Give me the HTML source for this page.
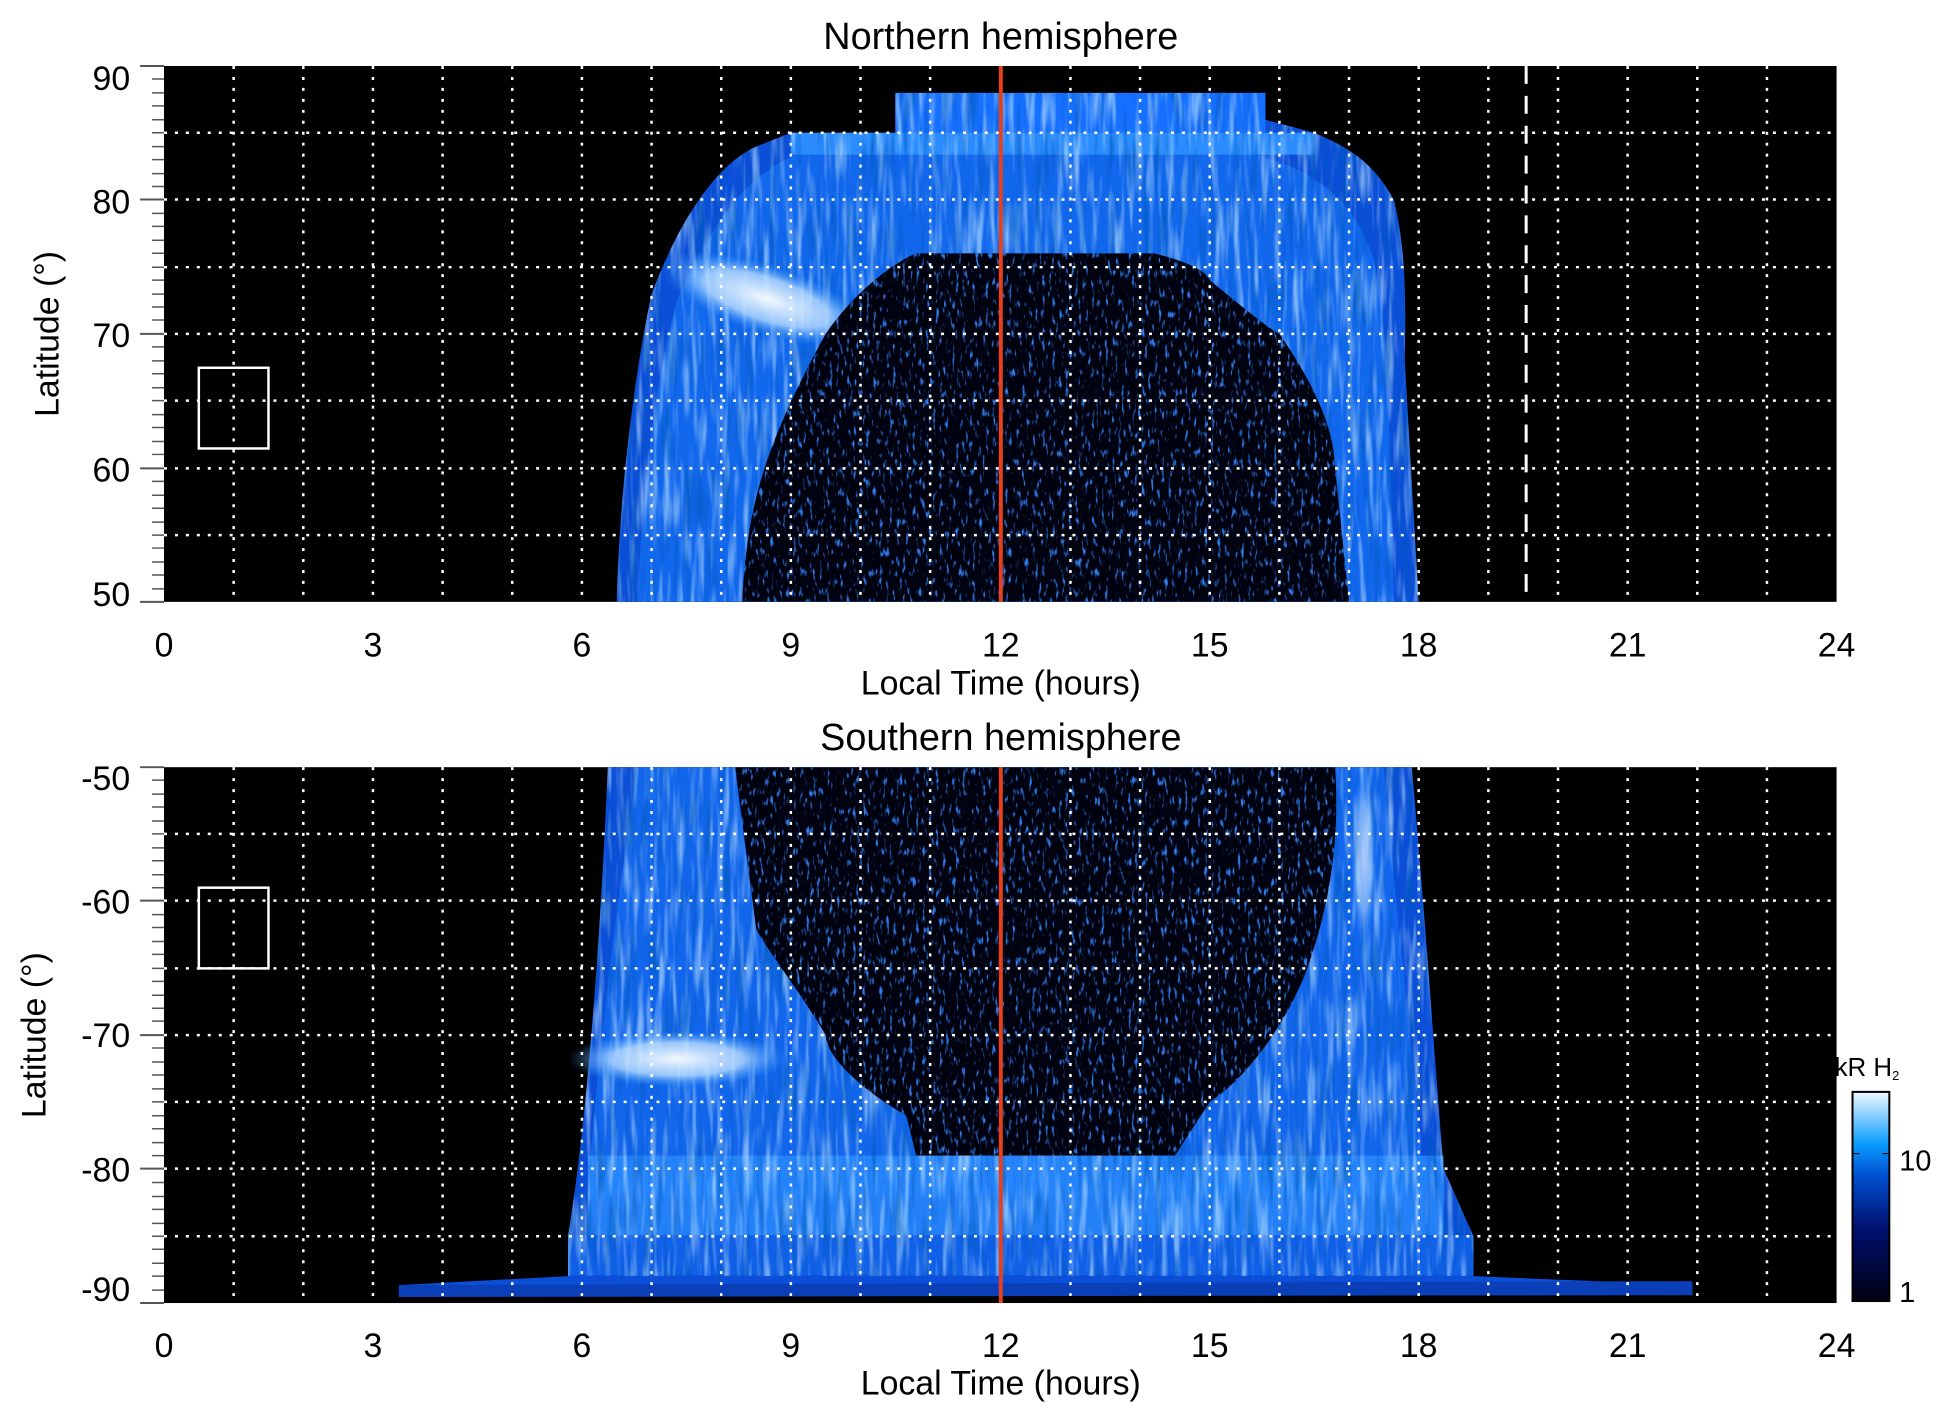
<!DOCTYPE html>
<html><head><meta charset="utf-8"><style>
body{margin:0;background:#fff;}
svg{display:block;font-family:"Liberation Sans",sans-serif;}
</style></head><body>
<svg width="1950" height="1423" viewBox="0 0 1950 1423" xmlns="http://www.w3.org/2000/svg">
<defs>
<filter id="spk" x="0" y="0" width="100%" height="100%">
<feTurbulence type="fractalNoise" baseFrequency="0.3 0.1" numOctaves="2" seed="3"/>
<feColorMatrix type="matrix" values="0 0 0 0 0.03  0 0 0 0 0.2  0 0 0 0 0.85  5 0 0 0 -2.9"/>
</filter>
<filter id="str" x="0" y="0" width="100%" height="100%">
<feTurbulence type="fractalNoise" baseFrequency="0.15 0.015" numOctaves="2" seed="7"/>
<feColorMatrix type="matrix" values="0 0 0 0 0.55  0 0 0 0 0.8  0 0 0 0 1  3 0 0 0 -1.4"/>
</filter>
<filter id="strd" x="0" y="0" width="100%" height="100%">
<feTurbulence type="fractalNoise" baseFrequency="0.15 0.015" numOctaves="2" seed="11"/>
<feColorMatrix type="matrix" values="0 0 0 0 0  0 0 0 0 0.1  0 0 0 0 0.5  3 0 0 0 -1.5"/>
</filter>
<radialGradient id="wt" cx="0.5" cy="0.5" r="0.5"><stop offset="0" stop-color="#f4f9ff"/><stop offset="0.6" stop-color="#b8dcff" stop-opacity="0.8"/><stop offset="1" stop-color="#3a9bff" stop-opacity="0"/></radialGradient>
<linearGradient id="cb" x1="0" y1="1" x2="0" y2="0"><stop offset="0" stop-color="#000010"/><stop offset="0.35" stop-color="#001070"/><stop offset="0.6" stop-color="#0050d0"/><stop offset="0.75" stop-color="#0a9cff"/><stop offset="1" stop-color="#f0f8ff"/></linearGradient>
<clipPath id="c1"><rect x="164" y="66" width="1681" height="538"/></clipPath>
<clipPath id="c2"><rect x="164" y="770" width="1681" height="538"/></clipPath>
<clipPath id="o1"><path d="M619,604 C622,480 640,360 654,295 C690,200 730,160 759,147 L794,133 L899,133 L899,93 L1271,93 L1271,120 L1320,133 C1360,150 1380,165 1400,200 C1415,260 1411,330 1411,362 L1425,604 Z"/></clipPath>
<clipPath id="o2"><path d="M610,770 L1418,770 C1430,900 1440,1050 1450,1173 L1480,1241 L1480,1281 L570,1281 L570,1241 C585,1150 600,1000 610,770 Z"/></clipPath>
<clipPath id="d1"><path d="M745,604 C750,520 760,460 829,335 C860,290 900,262 920,254 L1159,254 C1190,262 1210,270 1215,281 C1250,310 1275,330 1285,335 C1330,400 1340,440 1341,470 L1355,604 Z"/></clipPath>
<clipPath id="d2"><path d="M738,770 L1341,770 C1345,830 1340,900 1310,980 C1280,1050 1240,1090 1215,1106 L1180,1160 L920,1160 L910,1120 C860,1090 830,1060 829,1039 C800,990 760,940 759,931 Z"/></clipPath>
</defs>
<g transform="translate(164,66) scale(0.995,0.996) translate(-164,-66)">
<rect x="164" y="66" width="1681" height="538" fill="#000"/>
<g clip-path="url(#c1)">
<path d="M619,604 C622,480 640,360 654,295 C690,200 730,160 759,147 L794,133 L899,133 L899,93 L1271,93 L1271,120 L1320,133 C1360,150 1380,165 1400,200 C1415,260 1411,330 1411,362 L1425,604 Z" fill="#0b4fd8"/>
<path d="M640,604 C645,480 660,370 680,300 C720,210 760,170 800,155 L1260,155 C1320,170 1360,200 1380,260 C1395,330 1395,420 1400,604 Z" fill="#1a7dff" opacity="0.55"/>
<rect x="899" y="93" width="372" height="40" fill="#1670ff"/>
<rect x="794" y="133" width="526" height="22" fill="#2a8cff"/>
<g clip-path="url(#o1)"><rect x="560" y="90" width="900" height="514" filter="url(#str)" opacity="0.6"/><rect x="560" y="90" width="900" height="514" filter="url(#strd)" opacity="0.6"/></g>
<ellipse cx="770" cy="300" rx="110" ry="35" fill="url(#wt)" transform="rotate(18 770 300)"/>
<g clip-path="url(#d1)"><rect x="700" y="240" width="700" height="364" fill="#00020f"/><rect x="700" y="240" width="700" height="364" filter="url(#spk)"/></g>
</g>
<g stroke="#fff" stroke-width="2.5" stroke-dasharray="3,8" fill="none">
<path d="M234,66V604M304,66V604M374,66V604M444,66V604M514,66V604M584,66V604M654,66V604M724,66V604M794,66V604M864,66V604M934,66V604M1075,66V604M1145,66V604M1215,66V604M1285,66V604M1355,66V604M1425,66V604M1495,66V604M1565,66V604M1635,66V604M1705,66V604M1775,66V604"/>
<path d="M164,133H1845M164,200H1845M164,268H1845M164,335H1845M164,402H1845M164,470H1845M164,537H1845"/>
</g>
<line x1="1533" y1="66" x2="1533" y2="604" stroke="#fff" stroke-width="3" stroke-dasharray="18,12"/>
<line x1="1005" y1="66" x2="1005" y2="604" stroke="#e8401a" stroke-width="4"/>
<rect x="199" y="369" width="70" height="81" fill="none" stroke="#fff" stroke-width="2.5"/>
<rect x="164" y="770" width="1681" height="538" fill="#000"/>
<g clip-path="url(#c2)">
<path d="M610,770 L1418,770 C1430,900 1440,1050 1450,1173 L1480,1241 L1480,1281 L1700,1290 L1700,1300 L400,1300 L400,1290 L570,1281 L570,1241 C585,1150 600,1000 610,770 Z" fill="#0b4fd8"/>
<path d="M640,770 L1390,770 C1400,900 1420,1050 1430,1200 L590,1200 C600,1050 620,900 640,770 Z" fill="#1a7dff" opacity="0.5"/>
<rect x="590" y="1160" width="860" height="80" fill="#2a8cff" opacity="0.8"/>
<rect x="570" y="1240" width="910" height="40" fill="#1060e8"/>
<path d="M400,1290 L1700,1286 L1700,1300 L400,1302 Z" fill="#0a3fb8"/>
<g clip-path="url(#o2)"><rect x="560" y="770" width="920" height="520" filter="url(#str)" opacity="0.6"/><rect x="560" y="770" width="920" height="520" filter="url(#strd)" opacity="0.6"/></g>
<ellipse cx="680" cy="1063" rx="110" ry="28" fill="url(#wt)"/>
<ellipse cx="1370" cy="860" rx="12" ry="90" fill="url(#wt)" opacity="0.7"/>
<g clip-path="url(#d2)"><rect x="700" y="770" width="700" height="400" fill="#00020f"/><rect x="700" y="770" width="700" height="400" filter="url(#spk)"/></g>
</g>
<g stroke="#fff" stroke-width="2.5" stroke-dasharray="3,8" fill="none">
<path d="M234,770V1308M304,770V1308M374,770V1308M444,770V1308M514,770V1308M584,770V1308M654,770V1308M724,770V1308M794,770V1308M864,770V1308M934,770V1308M1075,770V1308M1145,770V1308M1215,770V1308M1285,770V1308M1355,770V1308M1425,770V1308M1495,770V1308M1565,770V1308M1635,770V1308M1705,770V1308M1775,770V1308"/>
<path d="M164,837H1845M164,904H1845M164,972H1845M164,1039H1845M164,1106H1845M164,1173H1845M164,1241H1845"/>
</g>
<line x1="1005" y1="770" x2="1005" y2="1308" stroke="#e8401a" stroke-width="4"/>
<rect x="199" y="891" width="70" height="81" fill="none" stroke="#fff" stroke-width="2.5"/>
<g stroke="#555" stroke-width="2">
<path d="M140,66H164M140,200H164M140,335H164M140,470H164M140,604H164M140,770H164M140,904H164M140,1039H164M140,1173H164M140,1308H164"/>
</g>
<g stroke="#555" stroke-width="1.5">
<path d="M152,79H164M152,93H164M152,106H164M152,120H164M152,133H164M152,147H164M152,160H164M152,174H164M152,187H164M152,214H164M152,227H164M152,241H164M152,254H164M152,268H164M152,281H164M152,295H164M152,308H164M152,321H164M152,348H164M152,362H164M152,375H164M152,389H164M152,402H164M152,416H164M152,429H164M152,443H164M152,456H164M152,483H164M152,497H164M152,510H164M152,524H164M152,537H164M152,550H164M152,564H164M152,577H164M152,591H164"/>
<path transform="translate(0,704)" d="M152,79H164M152,93H164M152,106H164M152,120H164M152,133H164M152,147H164M152,160H164M152,174H164M152,187H164M152,214H164M152,227H164M152,241H164M152,254H164M152,268H164M152,281H164M152,295H164M152,308H164M152,321H164M152,348H164M152,362H164M152,375H164M152,389H164M152,402H164M152,416H164M152,429H164M152,443H164M152,456H164M152,483H164M152,497H164M152,510H164M152,524H164M152,537H164M152,550H164M152,564H164M152,577H164M152,591H164"/>
</g>
<g font-size="34" fill="#000">
<g text-anchor="end"><text x="130" y="90">90</text><text x="130" y="214">80</text><text x="130" y="348">70</text><text x="130" y="483">60</text><text x="130" y="608">50</text>
<text x="130" y="793">-50</text><text x="130" y="917">-60</text><text x="130" y="1051">-70</text><text x="130" y="1186">-80</text><text x="130" y="1306">-90</text></g>
<g text-anchor="middle">
<text x="164" y="659">0</text><text x="374" y="659">3</text><text x="584" y="659">6</text><text x="794" y="659">9</text><text x="1005" y="659">12</text><text x="1215" y="659">15</text><text x="1425" y="659">18</text><text x="1635" y="659">21</text><text x="1845" y="659">24</text>
<text x="164" y="1362">0</text><text x="374" y="1362">3</text><text x="584" y="1362">6</text><text x="794" y="1362">9</text><text x="1005" y="1362">12</text><text x="1215" y="1362">15</text><text x="1425" y="1362">18</text><text x="1635" y="1362">21</text><text x="1845" y="1362">24</text>
<text x="1005" y="697">Local Time (hours)</text><text x="1005" y="1400">Local Time (hours)</text>
<text x="1005" y="49" font-size="38">Northern hemisphere</text><text x="1005" y="753" font-size="38">Southern hemisphere</text>
<text transform="translate(58,335) rotate(-90)">Latitude (°)</text>
<text transform="translate(45,1039) rotate(-90)">Latitude (°)</text>
</g>
</g>
<rect x="1861" y="1096" width="37" height="210" fill="url(#cb)" stroke="#000" stroke-width="2"/>
<line x1="1861" y1="1158" x2="1868" y2="1158" stroke="#000"/><line x1="1891" y1="1158" x2="1898" y2="1158" stroke="#000"/>
<text x="1908" y="1175" font-size="29">10</text>
<text x="1908" y="1307" font-size="29">1</text>
<text x="1843" y="1080" font-size="26">kR H<tspan font-size="13" dy="4">2</tspan></text>
</g>
</svg>
</body></html>
